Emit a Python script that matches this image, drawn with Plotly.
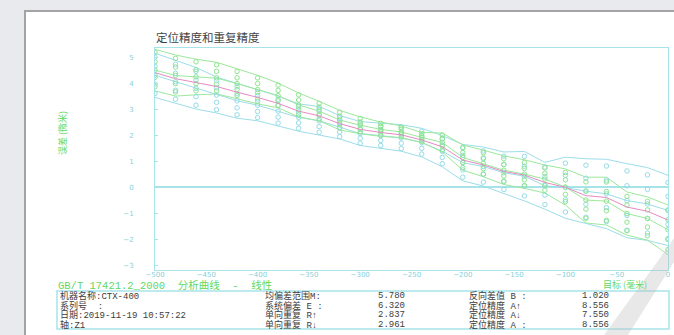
import plotly.graph_objects as go

W, H = 674, 335

# Target positions (mm) and measured deviations (µm)
targets = list(range(-500, 1, 20))

fwd_upper = [5.30, 5.08, 4.92, 4.80, 4.55, 4.30, 4.00, 3.62, 3.30, 2.95, 2.70, 2.50, 2.35,
             2.10, 2.08, 1.62, 1.42, 1.20, 1.05, 0.85, 0.70, 0.38, 0.38, -0.19, -0.38, -0.69]
fwd_mean = [4.50, 4.29, 4.24, 4.19, 3.98, 3.75, 3.52, 3.16, 2.92, 2.58, 2.38, 2.22, 2.12,
            1.91, 1.72, 1.14, 0.91, 0.65, 0.50, 0.31, 0.00, -0.50, -0.54, -1.02, -1.21, -1.64]
fwd_lower = [3.70, 3.50, 3.55, 3.58, 3.40, 3.20, 3.05, 2.70, 2.55, 2.20, 2.05, 1.95, 1.90,
             1.72, 1.35, 0.65, 0.40, 0.10, -0.05, -0.23, -0.69, -1.38, -1.46, -1.85, -2.04, -2.60]

bwd_upper = [5.15, 4.88, 4.60, 4.23, 4.00, 3.75, 3.50, 3.20, 3.10, 2.75, 2.52, 2.45, 2.40,
             2.26, 1.98, 1.64, 1.54, 1.35, 1.37, 0.95, 1.15, 1.09, 1.07, 0.90, 0.75, 0.45]
bwd_mean = [4.30, 4.05, 3.80, 3.54, 3.32, 3.15, 2.92, 2.68, 2.55, 2.30, 2.06, 1.98, 1.89,
            1.71, 1.38, 0.94, 0.79, 0.55, 0.42, 0.05, -0.02, -0.16, -0.26, -0.52, -0.65, -0.90]
bwd_lower = [3.45, 3.22, 3.00, 2.85, 2.65, 2.55, 2.35, 2.15, 2.00, 1.85, 1.60, 1.50, 1.38,
             1.16, 0.78, 0.24, 0.04, -0.25, -0.53, -0.85, -1.20, -1.40, -1.60, -1.95, -2.05, -2.25]

bi_mean = [4.40, 4.17, 4.02, 3.87, 3.65, 3.45, 3.22, 2.92, 2.74, 2.44, 2.22, 2.10, 2.01,
           1.81, 1.55, 1.04, 0.85, 0.60, 0.46, 0.18, -0.01, -0.33, -0.40, -0.77, -0.93, -1.27]

# Individual readings at each target, forward (↑) and backward (↓) runs
fwd_readings = [
    [4.82, 5.18, 4.22, 4.50, 3.86], [4.62, 4.95, 3.98, 4.30, 3.66], [4.52, 4.24, 4.82, 3.70, 3.98],
    [4.45, 4.70, 4.20, 3.95, 3.70], [4.20, 4.45, 3.98, 3.52, 3.75], [3.98, 4.20, 3.52, 3.75, 3.30],
    [3.72, 3.92, 3.52, 3.14, 3.32], [3.35, 3.55, 3.16, 2.98, 2.78], [3.08, 3.22, 2.92, 2.62, 2.78],
    [2.72, 2.88, 2.58, 2.42, 2.28], [2.50, 2.64, 2.38, 2.24, 2.12], [2.33, 2.45, 2.22, 2.00, 2.12],
    [2.22, 2.30, 2.12, 2.04, 1.94], [1.98, 2.06, 1.91, 1.84, 1.76], [1.86, 2.00, 1.72, 1.42, 1.58],
    [1.33, 1.52, 1.14, 0.95, 0.75], [1.12, 1.32, 0.91, 0.50, 0.71], [0.87, 1.09, 0.65, 0.43, 0.21],
    [0.72, 0.94, 0.50, 0.28, 0.06], [0.53, 0.74, 0.31, 0.09, -0.12], [0.28, 0.56, 0.00, -0.28, -0.56],
    [-0.15, 0.20, -0.50, -0.85, -1.20], [-0.17, 0.20, -0.54, -1.28, -0.91], [-0.69, -0.36, -1.02, -1.35, -1.68],
    [-0.88, -0.55, -1.21, -1.54, -1.87], [-1.26, -0.88, -1.64, -2.02, -2.40],
]
bwd_readings = [
    [4.64, 5.00, 4.30, 3.96, 3.60], [4.38, 4.72, 4.05, 3.72, 3.38], [4.12, 4.45, 3.80, 3.15, 3.48],
    [3.82, 4.10, 3.54, 3.26, 2.98], [3.59, 3.86, 3.32, 3.05, 2.78], [3.39, 3.63, 3.15, 2.67, 2.91],
    [3.15, 3.38, 2.92, 2.69, 2.46], [2.89, 3.10, 2.68, 2.47, 2.26], [2.77, 2.99, 2.55, 2.33, 2.11],
    [2.48, 2.66, 2.30, 2.12, 1.94], [2.24, 2.43, 2.06, 1.69, 1.88], [2.17, 2.36, 1.98, 1.79, 1.60],
    [2.09, 2.30, 1.89, 1.69, 1.48], [1.93, 2.15, 1.71, 1.49, 1.27], [1.62, 1.86, 1.38, 0.90, 1.14],
    [1.22, 1.50, 0.94, 0.66, 0.38], [1.09, 1.39, 0.79, 0.49, 0.19], [0.87, 1.19, 0.55, 0.23, -0.09],
    [0.80, 1.18, 0.42, 0.04, -0.34], [0.41, 0.77, 0.05, -0.67, -0.31], [0.45, 0.92, -0.02, -0.49, -0.96],
    [0.34, 0.84, -0.16, -0.66, -1.16], [0.27, 0.81, -0.26, -0.79, -1.33], [0.05, 0.62, -0.52, -1.09, -1.66],
    [-0.09, 0.47, -0.65, -1.21, -1.77], [-0.36, 0.18, -0.90, -1.44, -1.98],
]

x_ticks = [-500, -450, -400, -350, -300, -250, -200, -150, -100, -50, 0]
y_ticks = [-3, -2, -1, 0, 1, 2, 3, 4, 5]

# Summary statistics table
info_rows = ["机器名称:CTX-400", "系列号  :", "日期:2019-11-19 10:57:22", "轴:Z1"]
stat_labels_1 = ["均偏差范围M:", "系统偏差 E :", "单向重复 R↑", "单向重复 R↓"]
stat_values_1 = ["5.780", "6.320", "2.837", "2.961"]
stat_labels_2 = ["反向差值 B :", "定位精度 A↑", "定位精度 A↓", "定位精度 A :"]
stat_values_2 = ["1.020", "8.556", "7.550", "8.556"]

GREEN_LINE = "#9ce89c"
CYAN_LINE = "#9cdde9"
GREEN_MARK = "#8ee58e"
CYAN_MARK = "#94dbe6"
PINK = "#e58ac3"
AXIS = "#a6e4ea"
TICK_TXT = "#86cfd9"
GREEN_TXT = "#5fd85f"
TABLE_TXT = "#3c3c3c"
MONO = "Liberation Mono, Noto Sans CJK SC, monospace"


def fx(p):
    return p / W


def fy(p):
    return 1 - p / H


fig = go.Figure()

for ys, col in [(bwd_upper, CYAN_LINE), (bwd_mean, CYAN_LINE), (bwd_lower, CYAN_LINE),
                (fwd_upper, GREEN_LINE), (fwd_mean, GREEN_LINE), (fwd_lower, GREEN_LINE)]:
    fig.add_trace(go.Scatter(x=targets, y=ys, mode="lines",
                             line=dict(color=col, width=1), hoverinfo="skip", showlegend=False))

for readings, col in [(bwd_readings, CYAN_MARK), (fwd_readings, GREEN_MARK)]:
    xs, ys = [], []
    for t, vals in zip(targets, readings):
        for v in vals:
            xs.append(t)
            ys.append(v)
    fig.add_trace(go.Scatter(x=xs, y=ys, mode="markers",
                             marker=dict(symbol="circle-open", size=4.5, color=col, line=dict(width=1)),
                             hoverinfo="skip", showlegend=False))

fig.add_trace(go.Scatter(x=targets, y=bi_mean, mode="lines",
                         line=dict(color=PINK, width=1), hoverinfo="skip", showlegend=False))

shapes = [
    # sheet of paper
    dict(type="rect", xref="paper", yref="paper", x0=fx(25), x1=fx(700), y0=fy(345), y1=fy(11),
         fillcolor="white", line=dict(color="#a3a3a3", width=2), layer="below"),
    # statistics box
    dict(type="rect", xref="paper", yref="paper", x0=fx(57), x1=fx(669), y0=fy(329), y1=fy(291),
         line=dict(color=AXIS, width=1.5), fillcolor="rgba(0,0,0,0)"),
    # faint logo stroke in the corner
    dict(type="path", xref="paper", yref="paper",
         path=f"M {fx(660)},{fy(258)} L {fx(674)},{fy(238)} L {fx(674)},{fy(262)} "
              f"L {fx(628)},{fy(335)} L {fx(604)},{fy(335)} Z",
         fillcolor="rgba(190,190,190,0.35)", line=dict(width=0)),
]

annotations = [
    dict(text="定位精度和重复精度", x=fx(154), y=fy(37), xanchor="left", yanchor="middle",
         font=dict(family="Noto Sans CJK SC", size=11.5, color="#444444")),
    dict(text="误差 (微米)", x=fx(62), y=fy(133), textangle=-90, xanchor="center", yanchor="middle",
         font=dict(family="Noto Sans CJK SC", size=9, color=GREEN_TXT)),
    dict(text="目标 (毫米)", x=fx(625), y=fy(284), xanchor="center", yanchor="middle",
         font=dict(family="Noto Sans CJK SC", size=9, color=GREEN_TXT)),
    dict(text="GB/T 17421.2_2000  分析曲线  -  线性", x=fx(56), y=fy(285), xanchor="left", yanchor="middle",
         font=dict(family=MONO, size=10.5, color=GREEN_TXT)),
]

row_y = [296, 305.5, 315, 324.5]
for i in range(4):
    for txt, xp in [(info_rows[i], 58), (stat_labels_1[i], 263), (stat_values_1[i], 376),
                    (stat_labels_2[i], 467), (stat_values_2[i], 580)]:
        annotations.append(dict(text=txt, x=fx(xp), y=fy(row_y[i]), xanchor="left", yanchor="middle",
                                font=dict(family=MONO, size=9, color=TABLE_TXT)))

for a in annotations:
    a.update(xref="paper", yref="paper", showarrow=False)

fig.update_layout(
    width=W, height=H, autosize=False,
    margin=dict(l=0, r=0, t=0, b=0, pad=0),
    paper_bgcolor="#e9eaee", plot_bgcolor="white",
    shapes=shapes, annotations=annotations, showlegend=False,
    xaxis=dict(domain=[fx(155), fx(668)], range=[-500, 0], tickvals=x_ticks, automargin=False,
               tickfont=dict(family="DejaVu Sans", size=7, color=TICK_TXT),
               showline=True, mirror=True, linecolor=AXIS, linewidth=1,
               showgrid=False, zeroline=False, ticks="", ticklabelstandoff=-2),
    yaxis=dict(domain=[fy(270), fy(48)], range=[-3.19, 5.35], tickvals=y_ticks, automargin=False,
               tickfont=dict(family="DejaVu Sans", size=7, color=TICK_TXT),
               showline=True, mirror=True, linecolor=AXIS, linewidth=1,
               showgrid=False, zeroline=True, zerolinecolor=AXIS, zerolinewidth=1.5,
               ticks="inside", ticklen=3, tickcolor=AXIS, ticklabelstandoff=19),
)

fig.write_html("out.html")
